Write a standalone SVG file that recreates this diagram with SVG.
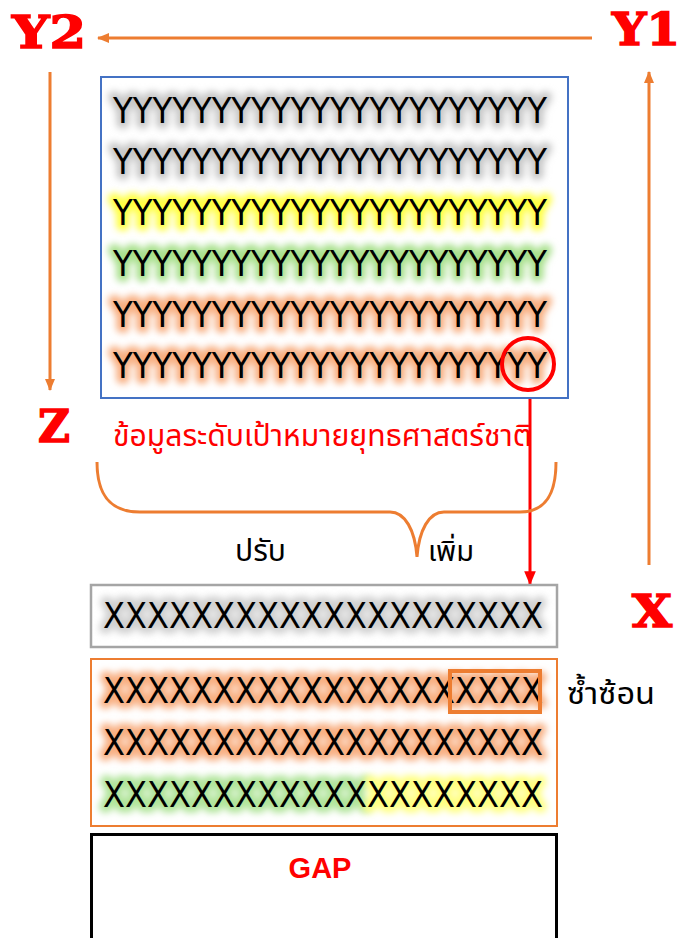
<svg xmlns="http://www.w3.org/2000/svg" width="681" height="938" viewBox="0 0 681 938">
<style>
.lbl{font-family:"DejaVu Serif","Liberation Serif",serif;font-weight:900;fill:#FF0000;stroke:#FF0000;stroke-width:1.5;font-size:44px}
.row{font-family:"DejaVu Sans","Liberation Sans",sans-serif;font-size:36px;fill:#000}
.glow{stroke-width:11;stroke-linejoin:round;filter:url(#blur)}
.th{font-family:"Noto Sans Thai","Noto Sans","Liberation Sans",sans-serif}
.conn{stroke:#ED7D31;stroke-width:3;fill:none}
</style>
<defs>
<filter id="blur" x="-10%" y="-60%" width="120%" height="220%"><feGaussianBlur stdDeviation="3.5"/></filter>
<marker id="ah" viewBox="0 0 12 10" refX="11" refY="5" markerWidth="12" markerHeight="10" markerUnits="userSpaceOnUse" orient="auto"><path d="M0,0 L12,5 L0,10 Z" fill="#ED7D31"/></marker>
<marker id="ahr" viewBox="0 0 12 10" refX="11" refY="5" markerWidth="14" markerHeight="12" markerUnits="userSpaceOnUse" orient="auto"><path d="M0,0 L12,5 L0,10 Z" fill="#FF0000"/></marker>
</defs>

<g id="labels">
<text class="lbl" x="12" y="48" textLength="74" lengthAdjust="spacingAndGlyphs">Y2</text>
<text class="lbl" x="612" y="45" textLength="68" lengthAdjust="spacingAndGlyphs">Y1</text>
<text class="lbl" x="38" y="442" textLength="32" lengthAdjust="spacingAndGlyphs">Z</text>
<text class="lbl" x="632" y="627" textLength="40" lengthAdjust="spacingAndGlyphs">X</text>
</g>

<g id="connectors">
<line class="conn" x1="592" y1="38" x2="98" y2="38" marker-end="url(#ah)"/>
<line class="conn" x1="50" y1="72" x2="50" y2="390" marker-end="url(#ah)"/>
<line class="conn" x1="649" y1="565" x2="649" y2="72" marker-end="url(#ah)"/>
<line x1="530" y1="392" x2="530" y2="584" stroke="#FF0000" stroke-width="3" marker-end="url(#ahr)"/>
<path class="conn" d="M97,462 C97,495 110,512 140,512 L390,512 C405,512 415,530 417,557 C419,530 429,512 444,512 L520,512 C545,512 556,495 556,462"/>
</g>

<g id="target-box">
<rect x="101" y="77" width="467" height="321" fill="#fff" stroke="#4472C4" stroke-width="2"/>
<g class="row">
<text class="glow" x="113" y="123" textLength="434" lengthAdjust="spacingAndGlyphs" fill="#C8C8C8" stroke="#C8C8C8">YYYYYYYYYYYYYYYYYYYYYY</text>
<text x="113" y="123" textLength="434" lengthAdjust="spacingAndGlyphs">YYYYYYYYYYYYYYYYYYYYYY</text>
<text class="glow" x="113" y="174" textLength="434" lengthAdjust="spacingAndGlyphs" fill="#C8C8C8" stroke="#C8C8C8">YYYYYYYYYYYYYYYYYYYYYY</text>
<text x="113" y="174" textLength="434" lengthAdjust="spacingAndGlyphs">YYYYYYYYYYYYYYYYYYYYYY</text>
<text class="glow" x="113" y="225" textLength="434" lengthAdjust="spacingAndGlyphs" fill="#FFFF40" stroke="#FFFF40">YYYYYYYYYYYYYYYYYYYYYY</text>
<text x="113" y="225" textLength="434" lengthAdjust="spacingAndGlyphs">YYYYYYYYYYYYYYYYYYYYYY</text>
<text class="glow" x="113" y="276" textLength="434" lengthAdjust="spacingAndGlyphs" fill="#A8E08C" stroke="#A8E08C">YYYYYYYYYYYYYYYYYYYYYY</text>
<text x="113" y="276" textLength="434" lengthAdjust="spacingAndGlyphs">YYYYYYYYYYYYYYYYYYYYYY</text>
<text class="glow" x="113" y="327" textLength="434" lengthAdjust="spacingAndGlyphs" fill="#F8AE80" stroke="#F8AE80">YYYYYYYYYYYYYYYYYYYYYY</text>
<text x="113" y="327" textLength="434" lengthAdjust="spacingAndGlyphs">YYYYYYYYYYYYYYYYYYYYYY</text>
<text class="glow" x="113" y="378" textLength="434" lengthAdjust="spacingAndGlyphs" fill="#F8AE80" stroke="#F8AE80">YYYYYYYYYYYYYYYYYYYYYY</text>
<text x="113" y="378" textLength="434" lengthAdjust="spacingAndGlyphs">YYYYYYYYYYYYYYYYYYYYYY</text>
</g>
<circle cx="528" cy="364" r="26" fill="none" stroke="#FF0000" stroke-width="4"/>
</g>

<g id="caption">
<text class="th" x="113" y="446" font-size="30" fill="#FF0000" textLength="419" lengthAdjust="spacingAndGlyphs">ข้อมูลระดับเป้าหมายยุทธศาสตร์ชาติ</text>
<text class="th" x="235" y="561" font-size="30" fill="#000">ปรับ</text>
<text class="th" x="428" y="561" font-size="29" fill="#000">เพิ่ม</text>
</g>

<g id="gray-box">
<rect x="91" y="585" width="466" height="62" fill="#fff" stroke="#A5A5A5" stroke-width="2.5"/>
<g class="row">
<text class="glow" x="103" y="628" textLength="440" lengthAdjust="spacingAndGlyphs" fill="#D0D0D0" stroke="#D0D0D0">XXXXXXXXXXXXXXXXXXXX</text>
<text x="103" y="628" textLength="440" lengthAdjust="spacingAndGlyphs">XXXXXXXXXXXXXXXXXXXX</text>
</g>
</g>

<g id="orange-box">
<rect x="91" y="659" width="466" height="167" fill="#fff" stroke="#ED7D31" stroke-width="2"/>
<g class="row">
<text class="glow" x="103" y="703" textLength="440" lengthAdjust="spacingAndGlyphs" fill="#F8AE80" stroke="#F8AE80">XXXXXXXXXXXXXXXXXXXX</text>
<text x="103" y="703" textLength="440" lengthAdjust="spacingAndGlyphs">XXXXXXXXXXXXXXXXXXXX</text>
<text class="glow" x="103" y="755" textLength="440" lengthAdjust="spacingAndGlyphs" fill="#F8AE80" stroke="#F8AE80">XXXXXXXXXXXXXXXXXXXX</text>
<text x="103" y="755" textLength="440" lengthAdjust="spacingAndGlyphs">XXXXXXXXXXXXXXXXXXXX</text>
<text class="glow" x="103" y="807" textLength="264" lengthAdjust="spacingAndGlyphs" fill="#B0E49A" stroke="#B0E49A">XXXXXXXXXXXX</text>
<text class="glow" x="367" y="807" textLength="176" lengthAdjust="spacingAndGlyphs" fill="#FFFF80" stroke="#FFFF80">XXXXXXXX</text>
<text x="103" y="807" textLength="440" lengthAdjust="spacingAndGlyphs">XXXXXXXXXXXXXXXXXXXX</text>
</g>
<rect x="450" y="671" width="90" height="41" fill="none" stroke="#ED7D31" stroke-width="4"/>
<text class="th" x="567" y="704" font-size="30" fill="#000" textLength="88" lengthAdjust="spacingAndGlyphs">ซ้ำซ้อน</text>
</g>

<g id="gap-box">
<rect x="91.5" y="834.5" width="465" height="110" fill="#fff" stroke="#000" stroke-width="3"/>
<text x="320" y="878" text-anchor="middle" font-family="Liberation Sans,Arial,sans-serif" font-weight="bold" font-size="29" fill="#FF0000">GAP</text>
</g>
</svg>
